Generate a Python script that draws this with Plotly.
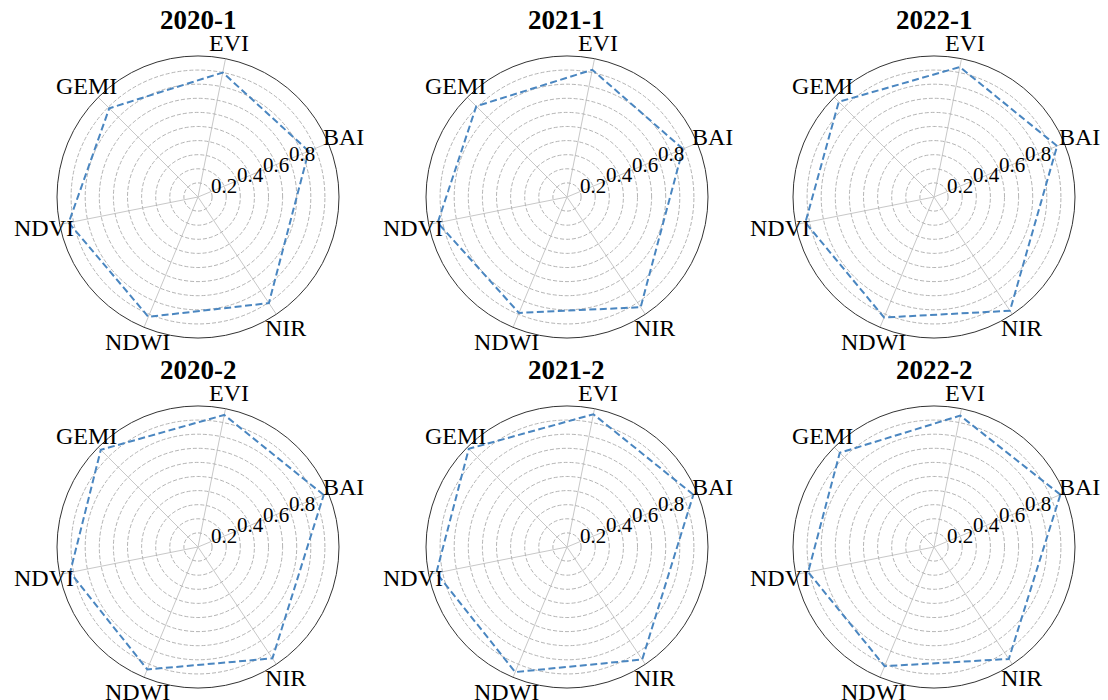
import math
import plotly.graph_objects as go

# Categories in counter-clockwise order starting from BAI
categories = ["BAI", "EVI", "GEMI", "NDVI", "NDWI", "NIR"]
titles = ["2020-1", "2021-1", "2022-1", "2020-2", "2021-2", "2022-2"]

# values per panel, in category order
v_2020_1 = [0.85, 0.90, 0.89, 0.935, 0.92, 0.905]
v_2021_1 = [0.89, 0.92, 0.91, 0.935, 0.89, 0.94]
v_2022_1 = [0.945, 0.94, 0.955, 0.93, 0.925, 0.97]
v_2020_2 = [0.965, 0.955, 0.975, 0.925, 0.94, 0.95]
v_2021_2 = [0.97, 0.96, 0.985, 0.945, 0.96, 0.96]
v_2022_2 = [0.97, 0.95, 0.945, 0.91, 0.915, 0.955]
panels = [v_2020_1, v_2021_1, v_2022_1, v_2020_2, v_2021_2, v_2022_2]

radial_grid = [0.1, 0.2, 0.3, 0.4, 0.5, 0.6, 0.7, 0.8, 0.9]
radial_labels = ["0.2", "0.4", "0.6", "0.8"]

W, H = 1108, 700
n = len(categories)
angles = [22.5 + i * (360 - 22.5) / n for i in range(n)]
RLABEL_ANGLE = 22.5

col_cx = [198, 567, 934]
row_cy = [197, 547]
R = 141
FONT = "Liberation Serif"
LINE = "#4a86c0"


def to_paper(cx, cy, rad, ang_deg):
    a = math.radians(ang_deg)
    return (cx + rad * math.cos(a)) / W, 1 - (cy - rad * math.sin(a)) / H


fig = go.Figure()
layout = dict(
    width=W, height=H,
    margin=dict(l=0, r=0, t=0, b=0),
    paper_bgcolor="white",
    showlegend=False,
    font=dict(family=FONT, color="black"),
    annotations=[],
)

for i, (vals, title) in enumerate(zip(panels, titles)):
    r_, c_ = divmod(i, 3)
    cx, cy = col_cx[c_], row_cy[r_]
    key = "polar" if i == 0 else f"polar{i+1}"
    fig.add_trace(go.Scatterpolar(
        r=vals + vals[:1],
        theta=angles + angles[:1],
        thetaunit="degrees",
        mode="lines",
        line=dict(color=LINE, width=2, dash="7px,3.5px"),
        subplot=key,
        hoverinfo="skip",
    ))
    layout[key] = dict(
        domain=dict(x=[(cx - R) / W, (cx + R) / W],
                    y=[1 - (cy + R) / H, 1 - (cy - R) / H]),
        bgcolor="white",
        angularaxis=dict(
            type="linear", thetaunit="degrees",
            rotation=0, direction="counterclockwise",
            tickmode="array", tickvals=angles, ticktext=categories,
            showticklabels=False,
            showgrid=True, gridcolor="#c8c8c8", gridwidth=1,
            showline=True, linecolor="#333333", linewidth=1,
            ticks="",
        ),
        radialaxis=dict(
            range=[0, 1], angle=RLABEL_ANGLE,
            tickmode="array", tickvals=radial_grid,
            showticklabels=False,
            showgrid=True, gridcolor="#b4b4b4", gridwidth=1, griddash="4px,2px",
            showline=False, ticks="",
        ),
    )
    # category labels around the circle
    for ang, cat in zip(angles, categories):
        x, y = to_paper(cx, cy, R * 1.115, ang)
        layout["annotations"].append(dict(
            text=cat, x=x, y=y, xref="paper", yref="paper", showarrow=False,
            xanchor="center", yanchor="middle", borderpad=0,
            font=dict(family=FONT, size=24, color="black"),
        ))
    # radial tick labels along 22.5 deg
    for lab in radial_labels:
        x, y = to_paper(cx, cy, R * float(lab), RLABEL_ANGLE)
        layout["annotations"].append(dict(
            text=lab, x=x, y=y, xref="paper", yref="paper", showarrow=False,
            xanchor="center", yanchor="middle", borderpad=0,
            font=dict(family=FONT, size=21, color="black"),
        ))
    layout["annotations"].append(dict(
        text=f"<b>{title}</b>", x=cx / W, y=1 - (cy - 177) / H,
        xref="paper", yref="paper", showarrow=False,
        xanchor="center", yanchor="middle", borderpad=0,
        font=dict(family=FONT, size=27, color="black"),
    ))

fig.update_layout(**layout)
fig.write_html(
    "out.html",
    config={"displayModeBar": False},
    post_script="document.body.style.margin='0';window.dispatchEvent(new Event('resize'));",
)
